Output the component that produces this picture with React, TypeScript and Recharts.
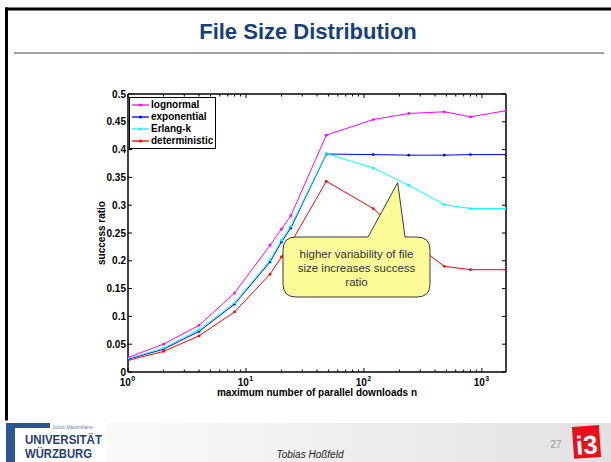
import React from 'react';
import { LineChart, Line, XAxis, YAxis, Legend } from 'recharts';

// ---- data ----
const downloads = [1, 2, 4, 8, 16, 20, 24, 48, 120, 240, 480, 800, 1600];
const lognormal = [0.026, 0.05, 0.084, 0.142, 0.228, 0.257, 0.281, 0.426, 0.454, 0.465, 0.468, 0.459, 0.47];
const exponential = [0.023, 0.041, 0.073, 0.122, 0.198, 0.234, 0.259, 0.392, 0.391, 0.39, 0.39, 0.391, 0.391];
const erlangK = [0.024, 0.043, 0.076, 0.124, 0.201, 0.237, 0.262, 0.393, 0.367, 0.336, 0.301, 0.294, 0.294];
const deterministic = [0.021, 0.037, 0.065, 0.108, 0.176, 0.207, 0.232, 0.343, 0.294, 0.238, 0.19, 0.184, 0.184];

const seriesKeys = ['lognormal', 'exponential', 'erlangK', 'deterministic'];
const seriesNames = ['lognormal', 'exponential', 'Erlang-k', 'deterministic'];
const seriesColors = ['#ff00ff', '#0000ff', '#00ffff', '#ff0000'];

const xTicks = [1, 2, 3, 4, 5, 6, 7, 8, 9, 10, 20, 30, 40, 50, 60, 70, 80, 90, 100, 200, 300, 400, 500, 600, 700, 800, 900, 1000];
const xMajor = [1, 10, 100, 1000];
const yTicks = [0, 0.05, 0.1, 0.15, 0.2, 0.25, 0.3, 0.35, 0.4, 0.45, 0.5];
const yTickLabels = ['0', '0.05', '0.1', '0.15', '0.2', '0.25', '0.3', '0.35', '0.4', '0.45', '0.5'];

const rows = downloads.map((n, i) => ({
  n,
  lognormal: lognormal[i],
  exponential: exponential[i],
  erlangK: erlangK[i],
  deterministic: deterministic[i],
}));

// ---- layout ----
const W = 611;
const H = 462;
const PLOT_LEFT = 128;
const PLOT_RIGHT = 506;
const PLOT_TOP = 94;
const PLOT_BOTTOM = 372;
const FONT = '"Liberation Sans", Arial, Helvetica, sans-serif';

const MAJ = 4;
const MIN = 2.5;

const BottomTick = (props: any) => {
  const { x, payload } = props;
  const v = payload.value;
  const idx = xMajor.indexOf(v);
  const major = idx >= 0;
  return (
    <g>
      <line x1={x} x2={x} y1={PLOT_BOTTOM} y2={PLOT_BOTTOM - (major ? MAJ : MIN)} stroke="#000" strokeWidth={1} />
      {major && (
        <text x={x - 0.5} y={PLOT_BOTTOM + 13.5} textAnchor="middle" fontFamily={FONT} fontWeight="bold" fontSize={10} fill="#000">
          10
          <tspan dx={0.5} dy={-5} fontSize={7}>{String(idx)}</tspan>
        </text>
      )}
    </g>
  );
};

const TopTick = (props: any) => {
  const { x, payload } = props;
  const major = xMajor.indexOf(payload.value) >= 0;
  return <line x1={x} x2={x} y1={PLOT_TOP} y2={PLOT_TOP + (major ? MAJ : MIN)} stroke="#000" strokeWidth={1} />;
};

const LeftTick = (props: any) => {
  const { y, payload } = props;
  const i = yTicks.indexOf(payload.value);
  return (
    <g>
      <line x1={PLOT_LEFT} x2={PLOT_LEFT + MAJ} y1={y} y2={y} stroke="#000" strokeWidth={1} />
      <text x={PLOT_LEFT - 2} y={y} dy="0.36em" textAnchor="end" fontFamily={FONT} fontWeight="bold" fontSize={10} fill="#000">
        {i >= 0 ? yTickLabels[i] : ''}
      </text>
    </g>
  );
};

const RightTick = (props: any) => {
  const { y } = props;
  return <line x1={PLOT_RIGHT} x2={PLOT_RIGHT - MAJ} y1={y} y2={y} stroke="#000" strokeWidth={1} />;
};

const LegendBox = () => (
  <div
    style={{
      width: 87,
      height: 52,
      boxSizing: 'border-box',
      border: '1.5px solid #000',
      background: '#fff',
      padding: '1px 2px',
      fontFamily: FONT,
      fontWeight: 'bold',
      fontSize: 10,
      color: '#000',
    }}
  >
    {seriesNames.map((name, i) => (
      <div key={name} style={{ height: 12, display: 'flex', alignItems: 'center', whiteSpace: 'nowrap' }}>
        <svg width={18} height={12} style={{ display: 'block', flex: 'none' }}>
          <line x1={0} x2={17} y1={6} y2={6} stroke={seriesColors[i]} strokeWidth={1.3} />
          <circle cx={8.5} cy={6} r={1.5} fill={seriesColors[i]} />
        </svg>
        <span style={{ marginLeft: 1, lineHeight: '12px' }}>{name}</span>
      </div>
    ))}
  </div>
);

const Callout = () => {
  const x0 = 283, x1 = 430, y0 = 237, y1 = 297, r = 13;
  const d = [
    `M ${x0 + r} ${y0}`,
    `L 368 ${y0}`,
    `L 397.7 182.7`,
    `L 405 ${y0}`,
    `L ${x1 - r} ${y0}`,
    `Q ${x1} ${y0} ${x1} ${y0 + r}`,
    `L ${x1} ${y1 - r}`,
    `Q ${x1} ${y1} ${x1 - r} ${y1}`,
    `L ${x0 + r} ${y1}`,
    `Q ${x0} ${y1} ${x0} ${y1 - r}`,
    `L ${x0} ${y0 + r}`,
    `Q ${x0} ${y0} ${x0 + r} ${y0}`,
    'Z',
  ].join(' ');
  const lines = ['higher variability of file', 'size increases success', 'ratio'];
  return (
    <svg width={W} height={H} style={{ position: 'absolute', left: 0, top: 0, pointerEvents: 'none' }}>
      <path d={d} fill="#fbfb98" stroke="#3a3a3a" strokeWidth={1} />
      {lines.map((t, i) => (
        <text key={i} x={356.5} y={254 + i * 14} dy="0.36em" textAnchor="middle" fontFamily={FONT} fontSize={11.5} fill="#333">
          {t}
        </text>
      ))}
    </svg>
  );
};

const SlideDecor = () => (
  <svg width={W} height={H} style={{ position: 'absolute', left: 0, top: 0 }}>
    <defs>
      <linearGradient id="footerGrad" x1="0" x2="1" y1="0" y2="0">
        <stop offset="0" stopColor="#ffffff" />
        <stop offset="0.35" stopColor="#f5f5f5" />
        <stop offset="1" stopColor="#e2e2e2" />
      </linearGradient>
    </defs>
    <rect x={0} y={0} width={W} height={H} fill="#fff" />
    {/* footer band */}
    <rect x={0} y={423} width={W} height={H - 423} fill="url(#footerGrad)" />
    {/* black frame */}
    <rect x={5} y={7.5} width={W - 5} height={3} fill="#000" />
    <rect x={5} y={7.5} width={3} height={413} fill="#000" />
    {/* title */}
    <text x={308} y={39.3} textAnchor="middle" fontFamily={FONT} fontWeight="bold" fontSize={22} fill="#163f7b">
      File Size Distribution
    </text>
    <rect x={14} y={52} width={590} height={2} fill="#a3a3a3" />
    {/* university logo */}
    <rect x={6} y={421} width={100} height={41} fill="#ffffff" />
    <rect x={6} y={423} width={9} height={39} fill="#2a5697" />
    <rect x={6} y={423} width={44} height={5} fill="#2a5697" />
    <text x={52} y={429} fontFamily={FONT} fontSize={5} fill="#6a86b0">Julius-Maximilians-</text>
    <text x={25} y={443.5} fontFamily={FONT} fontWeight="bold" fontSize={12.5} fill="#1f3f74" textLength={77} lengthAdjust="spacingAndGlyphs">
      UNIVERSITÄT
    </text>
    <text x={25} y={457.5} fontFamily={FONT} fontWeight="bold" fontSize={12.5} fill="#1f3f74" textLength={67} lengthAdjust="spacingAndGlyphs">
      WÜRZBURG
    </text>
    {/* footer text */}
    <text x={310} y={458} textAnchor="middle" fontFamily={FONT} fontStyle="italic" fontSize={10} fill="#222">
      Tobias Hoßfeld
    </text>
    <text x={556} y={448} textAnchor="middle" fontFamily={FONT} fontSize={10} fill="#9a9a9a">27</text>
    {/* i3 logo */}
    <g transform="rotate(-4 586 442)">
      <rect x={573} y={426} width={27} height={32} fill="#e8101a" />
      <text x={586.5} y={454} textAnchor="middle" fontFamily={FONT} fontWeight="bold" fontSize={26} fill="#fff">i3</text>
    </g>
  </svg>
);

export default function App() {
  return (
    <div style={{ position: 'absolute', left: 0, top: 0, width: W, height: H, overflow: 'hidden', background: '#fff' }}>
      <SlideDecor />
      <div style={{ position: 'absolute', left: 0, top: 0 }}>
        <LineChart
          width={W}
          height={H}
          data={rows}
          margin={{ top: PLOT_TOP - 10, right: W - PLOT_RIGHT - 10, bottom: H - PLOT_BOTTOM - 30, left: PLOT_LEFT - 40 }}
        >
          <XAxis
            dataKey="n"
            type="number"
            scale="log"
            domain={[1, 1600]}
            allowDataOverflow
            ticks={xTicks}
            interval={0}
            tick={<BottomTick />}
            tickLine={false}
            axisLine={{ stroke: '#000', strokeWidth: 1.5 }}
            height={30}
            label={{
              content: (p: any) => {
                const vb = p.viewBox || {};
                return (
                  <text x={vb.x + vb.width / 2} y={PLOT_BOTTOM + 23.5} textAnchor="middle" fontFamily={FONT} fontWeight="bold" fontSize={10} fill="#000">
                    maximum number of parallel downloads n
                  </text>
                );
              },
            }}
          />
          <XAxis
            xAxisId="top"
            orientation="top"
            dataKey="n"
            type="number"
            scale="log"
            domain={[1, 1600]}
            allowDataOverflow
            ticks={xTicks}
            interval={0}
            tick={<TopTick />}
            tickLine={false}
            axisLine={{ stroke: '#000', strokeWidth: 1.5 }}
            height={10}
          />
          <YAxis
            type="number"
            domain={[0, 0.5]}
            allowDataOverflow
            ticks={yTicks}
            interval={0}
            tick={<LeftTick />}
            tickLine={false}
            axisLine={{ stroke: '#000', strokeWidth: 1.5 }}
            width={40}
            label={{
              content: () => (
                <text
                  x={0}
                  y={0}
                  transform={`translate(101 ${(PLOT_TOP + PLOT_BOTTOM) / 2}) rotate(-90)`}
                  textAnchor="middle"
                  dy="0.36em"
                  fontFamily={FONT}
                  fontWeight="bold"
                  fontSize={10}
                  fill="#000"
                >
                  success ratio
                </text>
              ),
            }}
          />
          <YAxis
            yAxisId="right"
            orientation="right"
            type="number"
            domain={[0, 0.5]}
            allowDataOverflow
            ticks={yTicks}
            interval={0}
            tick={<RightTick />}
            tickLine={false}
            axisLine={{ stroke: '#000', strokeWidth: 1.5 }}
            width={10}
          />
          {seriesKeys.map((k, i) => (
            <Line
              key={k}
              dataKey={k}
              name={seriesNames[i]}
              type="linear"
              stroke={seriesColors[i]}
              strokeWidth={1}
              dot={{ r: 1.4, fill: seriesColors[i], stroke: seriesColors[i], strokeWidth: 0 }}
              activeDot={false}
              isAnimationActive={false}
            />
          ))}
          <Legend
            layout="vertical"
            align="center"
            verticalAlign="middle"
            content={() => <LegendBox />}
            wrapperStyle={{ position: 'absolute', left: 129, top: 97, width: 87, height: 52 }}
          />
        </LineChart>
      </div>
      <Callout />
    </div>
  );
}
